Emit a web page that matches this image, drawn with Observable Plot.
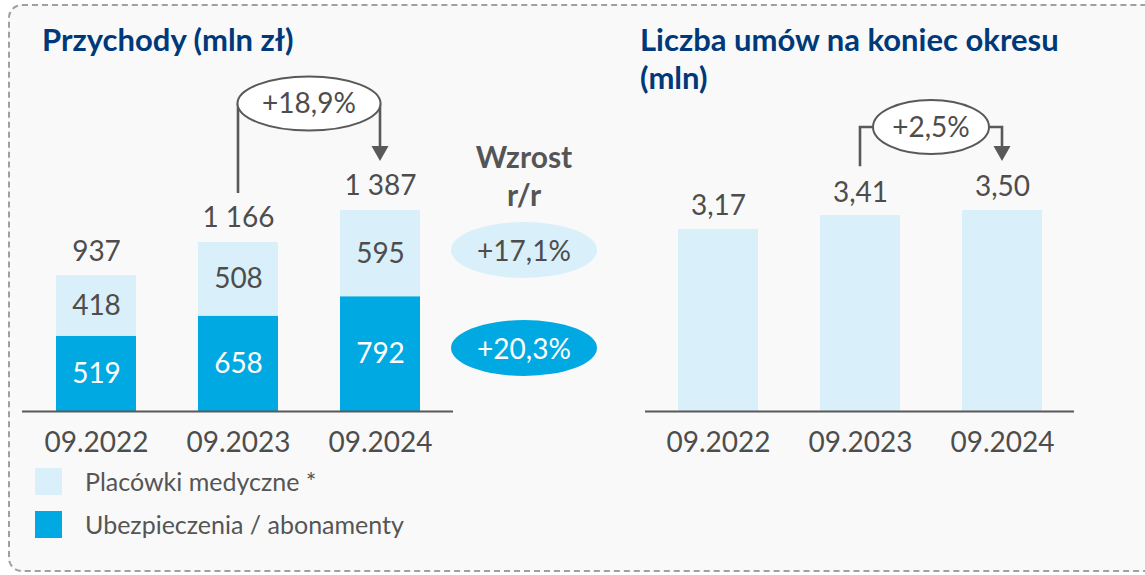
<!DOCTYPE html>
<html>
<head>
<meta charset="utf-8">
<script src="https://cdn.jsdelivr.net/npm/d3@7"></script>
<script src="https://cdn.jsdelivr.net/npm/@observablehq/plot@0.6"></script>
<style>
  html, body { margin: 0; padding: 0; background: #ffffff; }
  body { width: 1145px; height: 575px; overflow: hidden; position: relative; font-family: Lato, "Noto Sans", sans-serif; }
  #frame { position: absolute; left: 8px; top: 4px; width: 1160px; height: 568px; border: 2px dashed #a0a0a0; border-radius: 14px; background: #f9f9f9; box-sizing: border-box; }
  .title { position: absolute; color: #00397a; font-weight: 700; font-size: 31px; line-height: 38px; }
  .plot { position: absolute; top: 0; }
  #wzrost { position: absolute; left: 444px; top: 137px; width: 160px; text-align: center; color: #555; font-weight: 700; font-size: 30px; line-height: 38px; }
  .yoy { position: absolute; width: 146px; height: 56px; border-radius: 50%; display: flex; align-items: center; justify-content: center; font-size: 28px; }
  .legend { position: absolute; left: 35px; display: flex; align-items: center; font-size: 25px; color: #555; }
  .legend .sw { width: 27px; height: 27px; margin-right: 23px; }
</style>
</head>
<body>
<div id="frame"></div>
<div class="title" style="left:42px; top:20px;">Przychody (mln zł)</div>
<div class="title" style="left:640px; top:20px;">Liczba umów na koniec okresu<br>(mln)</div>
<div id="wzrost">Wzrost<br>r/r</div>
<div id="yoy1" class="yoy" style="left:451px; top:222px;"></div>
<div id="yoy2" class="yoy" style="left:451px; top:320px;"></div>
<div id="legend1" class="legend" style="top:466px;"></div>
<div id="legend2" class="legend" style="top:509px;"></div>
<div id="left" class="plot" style="left:0px;"></div>
<div id="right" class="plot" style="left:600px;"></div>
<script>
// ---- data ----
const periods = ["09.2022", "09.2023", "09.2024"];
const seriesNames = ["Ubezpieczenia / abonamenty", "Placówki medyczne *"];
const insurance = [519, 658, 792];      // Ubezpieczenia / abonamenty
const facilities = [418, 508, 595];     // Placówki medyczne *
const revenueTotal = [937, 1166, 1387];
const revenueGrowth = "+18,9%";
const yoyFacilities = "+17,1%";
const yoyInsurance = "+20,3%";
const contracts = [3.17, 3.41, 3.50];
const contractsGrowth = "+2,5%";

// ---- styles ----
const LIGHT = "#d9eff9";
const DARK = "#00a9e1";
const TEXT = "#4d4d4d";
const LINE = "#595959";
const FONT = "Lato, 'Noto Sans', sans-serif";

const pl = d3.formatLocale({decimal: ",", thousands: "\u202f", grouping: [3], currency: ["", " zł"]});
const fmtInt = pl.format(",d");
const fmtDec = pl.format(".2f");

// long table for stacking (insurance at the bottom)
const rows = [];
periods.forEach((p, i) => {
  rows.push({period: p, series: seriesNames[0], value: insurance[i]});
  rows.push({period: p, series: seriesNames[1], value: facilities[i]});
});
const totals = periods.map((p, i) => ({period: p, total: revenueTotal[i]}));
const contractRows = periods.map((p, i) => ({period: p, value: contracts[i]}));

// growth bracket between two bars
function bracket({a, b, va, vb, label, rise, rx, ry}) {
  return (index, scales) => {
    const x = scales.x, y = scales.y;
    const bw = x.bandwidth ? x.bandwidth() : 0;
    const xa = x(a) + bw / 2, xb = x(b) + bw / 2;
    const gap = 49;
    const ya = y(va) - gap, yb = y(vb) - gap;
    const ey = y(vb) - rise;
    const cx = (xa + xb) / 2;
    const g = d3.create("svg:g");
    g.append("path")
      .attr("d", `M${xa},${ya}V${ey}H${cx - rx}M${cx + rx},${ey}H${xb}V${yb - 14}`)
      .attr("fill", "none").attr("stroke", LINE).attr("stroke-width", 2.6);
    g.append("path")
      .attr("d", `M${xb - 8.5},${yb - 15}L${xb + 8.5},${yb - 15}L${xb},${yb}Z`)
      .attr("fill", LINE);
    g.append("ellipse")
      .attr("cx", cx).attr("cy", ey).attr("rx", rx).attr("ry", ry)
      .attr("fill", "#ffffff").attr("stroke", LINE).attr("stroke-width", 2);
    g.append("text")
      .attr("x", cx).attr("y", ey).attr("dy", "0.35em")
      .attr("text-anchor", "middle")
      .attr("font-family", FONT).attr("font-size", 28).attr("fill", TEXT)
      .text(label);
    return g.node();
  };
}

const common = {
  height: 575,
  marginTop: 210,
  marginBottom: 164,
  style: {background: "transparent", overflow: "visible", fontFamily: FONT},
};
const xOpts = {domain: periods, paddingInner: 0.44, paddingOuter: 0.23, label: null};

// ---- left: revenue ----
const left = Plot.plot({
  ...common,
  width: 620,
  marginLeft: 22,
  marginRight: 167,
  x: xOpts,
  y: {domain: [0, d3.max(revenueTotal)], axis: null},
  color: {domain: [seriesNames[1], seriesNames[0]], range: [LIGHT, DARK]},
  marks: [
    Plot.barY(rows, {x: "period", y: "value", fill: "series", z: "series"}),
    Plot.text(rows, Plot.filter(d => d.series === seriesNames[0],
      Plot.stackY({x: "period", y: "value", z: "series", text: d => fmtInt(d.value), fill: "#ffffff", fontSize: 28}))),
    Plot.text(rows, Plot.filter(d => d.series === seriesNames[1],
      Plot.stackY({x: "period", y: "value", z: "series", text: d => fmtInt(d.value), fill: TEXT, fontSize: 28}))),
    Plot.text(totals, {x: "period", y: "total", text: d => fmtInt(d.total), dy: -24, fill: TEXT, fontSize: 28}),
    Plot.ruleY([0], {stroke: LINE, strokeWidth: 2}),
    Plot.axisX({tickSize: 0, tickPadding: 21, fontSize: 28, fill: TEXT, label: null}),
    bracket({a: periods[1], b: periods[2], va: revenueTotal[1], vb: revenueTotal[2], label: revenueGrowth, rise: 106.5, rx: 71.5, ry: 27})
  ]
});
document.getElementById("left").appendChild(left);

// ---- right: contracts ----
const right = Plot.plot({
  ...common,
  width: 545,
  marginLeft: 45,
  marginRight: 71,
  x: xOpts,
  y: {domain: [0, d3.max(contracts)], axis: null},
  marks: [
    Plot.barY(contractRows, {x: "period", y: "value", fill: LIGHT}),
    Plot.text(contractRows, {x: "period", y: "value", text: d => fmtDec(d.value), dy: -23, fill: TEXT, fontSize: 28}),
    Plot.ruleY([0], {stroke: LINE, strokeWidth: 2}),
    Plot.axisX({tickSize: 0, tickPadding: 21, fontSize: 28, fill: TEXT, label: null}),
    bracket({a: periods[1], b: periods[2], va: contracts[1], vb: contracts[2], label: contractsGrowth, rise: 83, rx: 58, ry: 27})
  ]
});
document.getElementById("right").appendChild(right);

// ---- yoy bubbles & legend ----
const y1 = document.getElementById("yoy1");
y1.textContent = yoyFacilities; y1.style.background = LIGHT; y1.style.color = TEXT;
const y2 = document.getElementById("yoy2");
y2.textContent = yoyInsurance; y2.style.background = DARK; y2.style.color = "#ffffff";

function legendItem(id, name, color) {
  const el = document.getElementById(id);
  const sw = document.createElement("div");
  sw.className = "sw"; sw.style.background = color;
  const t = document.createElement("span");
  t.textContent = name;
  el.appendChild(sw); el.appendChild(t);
}
legendItem("legend1", seriesNames[1], LIGHT);
legendItem("legend2", seriesNames[0], DARK);
</script>
</body>
</html>
